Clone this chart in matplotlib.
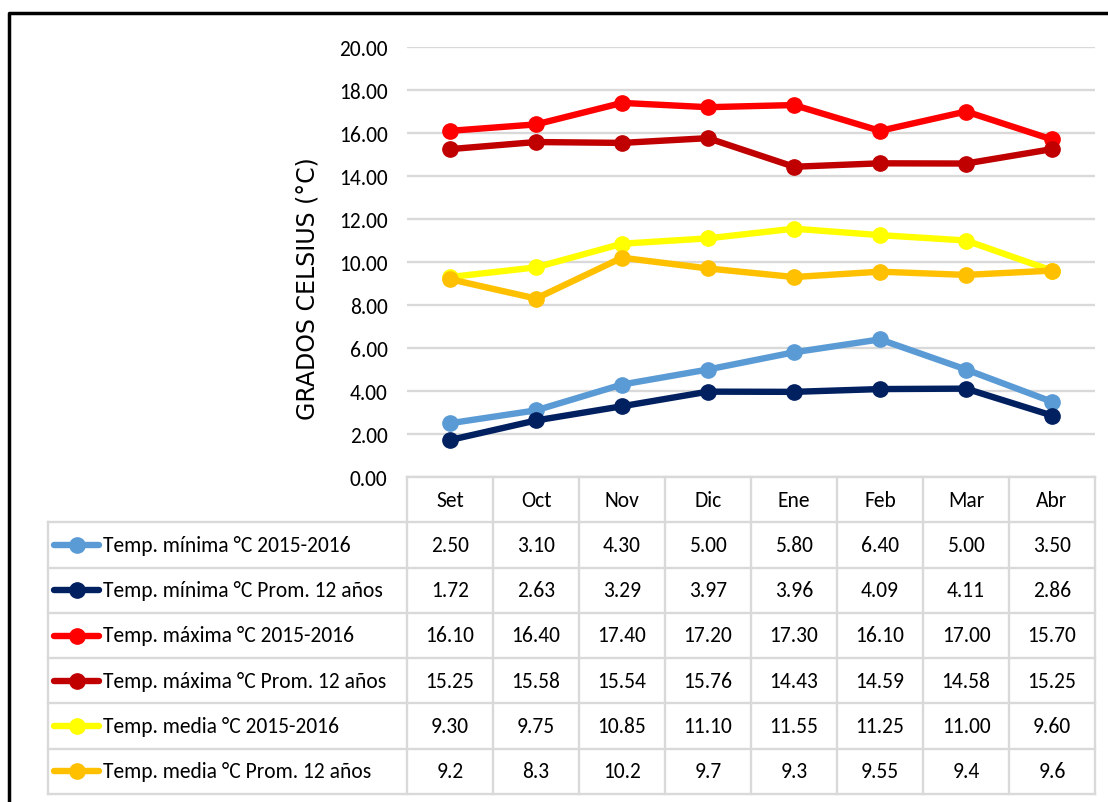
import matplotlib
matplotlib.use("Agg")
import matplotlib.pyplot as plt
from matplotlib import font_manager
from matplotlib.lines import Line2D

# datos
meses = ["Set", "Oct", "Nov", "Dic", "Ene", "Feb", "Mar", "Abr"]
tmin_1516 = [2.50, 3.10, 4.30, 5.00, 5.80, 6.40, 5.00, 3.50]
tmin_prom = [1.72, 2.63, 3.29, 3.97, 3.96, 4.09, 4.11, 2.86]
tmax_1516 = [16.10, 16.40, 17.40, 17.20, 17.30, 16.10, 17.00, 15.70]
tmax_prom = [15.25, 15.58, 15.54, 15.76, 14.43, 14.59, 14.58, 15.25]
tmed_1516 = [9.30, 9.75, 10.85, 11.10, 11.55, 11.25, 11.00, 9.60]
tmed_prom = [9.2, 8.3, 10.2, 9.7, 9.3, 9.55, 9.4, 9.6]

series_names = [
    "Temp. mínima °C 2015-2016",
    "Temp. mínima °C Prom. 12 años",
    "Temp. máxima °C 2015-2016",
    "Temp. máxima °C Prom. 12 años",
    "Temp. media °C 2015-2016",
    "Temp. media °C Prom. 12 años",
]
series_vals = [tmin_1516, tmin_prom, tmax_1516, tmax_prom, tmed_1516, tmed_prom]
series_fmt = ["{:.2f}", "{:.2f}", "{:.2f}", "{:.2f}", "{:.2f}", "{}"]
colors = ["#5B9BD5", "#002060", "#FF0000", "#C00000", "#FFFF00", "#FFC000"]

# fuente estrecha tipo Calibri si existe
avail = {f.name for f in font_manager.fontManager.ttflist}
main_font = "DejaVu Sans"
fsize = 12
for name, size in [("Carlito", 15.5), ("Liberation Sans Narrow", 15.5),
                   ("Roboto Condensed", 15), ("Liberation Sans", 13.5)]:
    if name in avail:
        main_font, fsize = name, size
        break

W, H = 1108, 803
fig = plt.figure(figsize=(W / 100, H / 100), dpi=100)
fig.patch.set_facecolor("white")

# layout en pixeles
px_left, px_right = 407, 1095
px_top, px_zero = 48, 478
tab_left, tab_bottom = 48, 795
n = len(meses)
unit = (px_right - px_left) / n
label_w = (px_left - tab_left) / unit
lw_line, ms_mark = 4.6, 11

ax = fig.add_axes([px_left / W, 1 - px_zero / H, (px_right - px_left) / W, (px_zero - px_top) / H])
x = list(range(n))
for vals, c in zip(series_vals, colors):
    ax.plot(x, vals, color=c, lw=lw_line, marker="o", ms=ms_mark, solid_capstyle="round", zorder=3)

ax.set_xlim(-0.5, n - 0.5)
ax.set_ylim(0, 20)
ax.set_yticks(range(0, 21, 2))
ax.set_yticklabels([f"{v:.2f}" for v in range(0, 21, 2)], fontfamily=main_font, fontsize=fsize)
ax.set_xticks([])
ax.tick_params(axis="y", length=0, pad=14, colors="#000000")
ax.grid(axis="y", color="#D9D9D9", lw=1.7)
for s in ax.spines.values():
    s.set_visible(False)

fig.text(307 / W, 1 - 289 / H, "GRADOS CELSIUS (°C)", rotation=90, ha="center", va="center",
         fontsize=17, fontfamily="DejaVu Sans")

# tabla de datos
tx = fig.add_axes([tab_left / W, 1 - tab_bottom / H, (px_right - tab_left) / W, (tab_bottom - px_zero) / H])
x0 = -0.5 - label_w
tx.set_xlim(x0, n - 0.5)
tx.set_ylim(len(series_vals) + 1, 0)
tx.axis("off")
grid_c = "#D9D9D9"
nrows = len(series_vals) + 1
for k in range(n + 1):
    tx.plot([k - 0.5, k - 0.5], [0, nrows], color=grid_c, lw=1.7, clip_on=False)
tx.plot([x0, x0], [1, nrows], color=grid_c, lw=1.7, clip_on=False)
tx.plot([-0.5, n - 0.5], [0, 0], color=grid_c, lw=1.7, clip_on=False)
for r in range(1, nrows + 1):
    tx.plot([x0, n - 0.5], [r, r], color=grid_c, lw=1.7, clip_on=False)

for j, m in enumerate(meses):
    tx.text(j, 0.5, m, ha="center", va="center", fontfamily=main_font, fontsize=fsize)

for i, (name, vals, fmt, c) in enumerate(zip(series_names, series_vals, series_fmt, colors)):
    yr = i + 1.5
    tx.plot([x0 + 6 / unit, x0 + 51 / unit], [yr, yr], color=c, lw=lw_line, solid_capstyle="round")
    tx.plot([x0 + 28.5 / unit], [yr], color=c, marker="o", ms=ms_mark)
    tx.text(x0 + 55 / unit, yr, name, ha="left", va="center", fontfamily=main_font, fontsize=fsize)
    for j, v in enumerate(vals):
        tx.text(j, yr, fmt.format(v), ha="center", va="center", fontfamily=main_font, fontsize=fsize)

# marco
fig.add_artist(Line2D([9 / W, 9 / W, 1], [0, 1 - 14 / H, 1 - 14 / H], transform=fig.transFigure,
                      color="black", lw=2.5))

fig.savefig("out.png", dpi=100)
